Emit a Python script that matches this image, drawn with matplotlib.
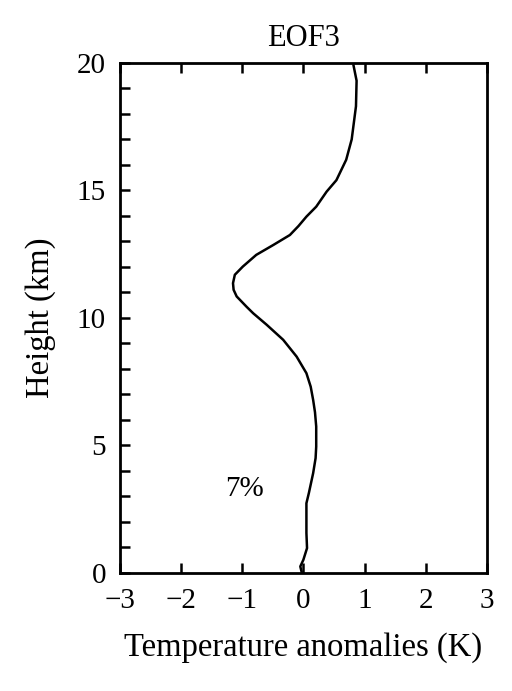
import numpy as np
import matplotlib
matplotlib.use("Agg")
import matplotlib.pyplot as plt
from matplotlib.ticker import MultipleLocator, NullLocator

plt.rcParams['font.family'] = ['Liberation Serif', 'DejaVu Serif']

# EOF3 profile: temperature anomaly (K) vs height (km)
height = [0.05, 0.25, 0.51, 0.97, 1.56, 2.2, 2.73, 3.13, 3.91, 4.5, 4.95,
          5.74, 6.3, 6.78, 7.3, 7.83, 8.48, 9.14, 9.73, 10.18, 10.44, 10.84,
          11.1, 11.36, 11.69, 12.01, 12.47, 12.86, 13.25, 13.6, 13.97, 14.36,
          14.95, 15.4, 16.2, 17.0, 18.3, 19.3, 19.9]
anomaly = [-0.03, -0.05, 0.0, 0.06, 0.05, 0.05, 0.05, 0.09, 0.16, 0.2, 0.21,
           0.21, 0.19, 0.16, 0.12, 0.05, -0.11, -0.33, -0.6, -0.82, -0.93,
           -1.09, -1.14, -1.15, -1.12, -0.99, -0.77, -0.49, -0.22, -0.08,
           0.05, 0.21, 0.38, 0.54, 0.7, 0.79, 0.86, 0.87, 0.82]

fig = plt.figure(figsize=(5.12, 6.91), dpi=100)
ax = fig.add_axes([0.234, 0.171, 0.717, 0.738])
ax.plot(anomaly, height, color='black', lw=1.8)

ax.set_xlim(-3, 3)
ax.set_ylim(0, 20)
ax.set_xticks(range(-3, 4))
ax.set_xticklabels(['\u22123', '\u22122', '\u22121', '0', '1', '2', '3'])
ax.xaxis.set_minor_locator(NullLocator())
ax.yaxis.set_major_locator(MultipleLocator(5))
ax.yaxis.set_minor_locator(MultipleLocator(1))
ax.tick_params(which='both', direction='in', length=7, width=1.8,
               top=True, right=False, labelsize=21)
ax.tick_params(axis='x', pad=11)
ax.tick_params(axis='y', pad=10)
for s in ax.spines.values():
    s.set_linewidth(2)

ax.set_xlabel('Temperature anomalies (K)', fontsize=23.5, labelpad=13)
ax.set_ylabel('Height (km)', fontsize=23.5, labelpad=15)
ax.set_title('EOF3', fontsize=22, pad=12)
ax.text(-0.96, 3.3, '7%', fontsize=21, ha='center', va='center')

fig.savefig('out.png', dpi=100)
